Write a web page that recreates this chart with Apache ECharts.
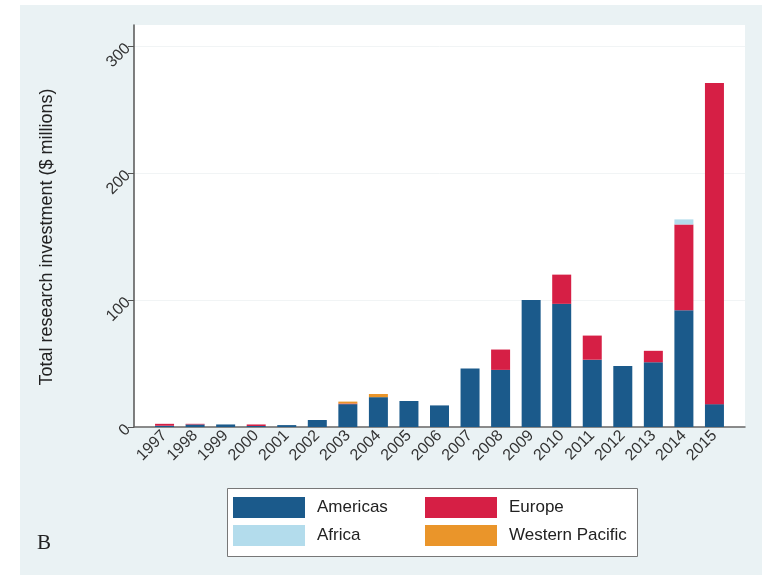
<!DOCTYPE html>
<html>
<head>
<meta charset="utf-8">
<script src="https://cdn.jsdelivr.net/npm/echarts@6/dist/echarts.min.js"></script>
<style>
  html, body { margin: 0; padding: 0; background: #ffffff; }
  #chart { width: 769px; height: 580px; }
</style>
</head>
<body>
<div id="chart"></div>
<script>
// Research investment by WHO region, $ millions per year
const years = ['1997', '1998', '1999', '2000', '2001', '2002', '2003', '2004', '2005', '2006', '2007', '2008', '2009', '2010', '2011', '2012', '2013', '2014', '2015'];
const americas = [1.0, 2.0, 2.0, 0.8, 1.5, 5.5, 18, 23.5, 20.5, 17, 46, 45, 100, 97, 53, 48, 51, 92, 18];
const europe = [1.5, 0.5, 0, 1.2, 0, 0, 0.5, 0, 0, 0, 0, 16, 0, 23, 19, 0, 9, 67.5, 253];
const africa = [0, 0, 0, 0, 0, 0, 0, 0, 0, 0, 0, 0, 0, 0, 0, 0, 0, 4, 0];
const westernPacific = [0, 0, 0, 0, 0, 0, 1.5, 2.5, 0, 0, 0, 0, 0, 0, 0, 0, 0, 0, 0];
const yTicks = [0, 100, 200, 300];

const seriesDefs = [
  { name: 'Americas', values: americas, color: '#1b5a8b' },
  { name: 'Europe', values: europe, color: '#d61f45' },
  { name: 'Africa', values: africa, color: '#b3dcec' },
  { name: 'Western Pacific', values: westernPacific, color: '#ea952a' }
];

// an empty slot on each side keeps the bars clear of the plot edges
const slots = [''].concat(years, ['']);
const padded = function (vals) { return [null].concat(vals, [null]); };

const font = '"Liberation Sans", Arial, sans-serif';

// two legend columns sharing one framed key box
function legendColumn(left, names) {
  return {
    left: left, top: 497,
    orient: 'vertical',
    itemWidth: 72, itemHeight: 21, itemGap: 7,
    padding: 0,
    icon: 'rect',
    data: names,
    textStyle: { fontFamily: font, fontSize: 17, color: '#222', padding: [0, 0, 0, 7] }
  };
}

const chart = echarts.init(document.getElementById('chart'), null, { renderer: 'canvas' });

chart.setOption({
  animation: false,
  backgroundColor: '#ffffff',
  graphic: [
    {
      type: 'rect', z: -10, silent: true,
      shape: { x: 20, y: 5, width: 742, height: 570 },
      style: { fill: '#eaf2f4' }
    },
    {
      type: 'rect', z: -5, silent: true,
      shape: { x: 227.5, y: 488.5, width: 410, height: 68 },
      style: { fill: '#ffffff', stroke: '#777', lineWidth: 1 }
    },
    {
      type: 'text', left: 37, top: 533, silent: true,
      style: { text: 'B', font: '21px "Liberation Serif", "DejaVu Serif", serif', fill: '#222' }
    }
  ],
  grid: {
    left: 134, right: 24, top: 25, bottom: 153,
    show: true, backgroundColor: '#ffffff', borderWidth: 0
  },
  legend: [
    legendColumn(233, ['Americas', 'Africa']),
    legendColumn(425, ['Europe', 'Western Pacific'])
  ],
  xAxis: {
    type: 'category',
    data: slots,
    boundaryGap: false,
    axisLine: { show: true, lineStyle: { color: '#666', width: 1.5 } },
    axisTick: { show: false },
    splitLine: { show: false },
    axisLabel: {
      interval: 0,
      rotate: 45,
      margin: 6,
      fontFamily: font, fontSize: 16, color: '#333'
    }
  },
  yAxis: {
    type: 'value',
    min: 0, max: 316.6,
    name: 'Total research investment ($ millions)',
    nameLocation: 'middle',
    nameGap: 78,
    nameRotate: 90,
    nameTextStyle: { fontFamily: font, fontSize: 18, color: '#222', padding: [0, 22, 0, 0] },
    axisLine: { show: true, lineStyle: { color: '#555', width: 1.5 } },
    axisTick: { show: true, customValues: yTicks, length: 6, inside: false, lineStyle: { color: '#555' } },
    splitLine: { show: true, lineStyle: { color: '#f1f4f5', width: 1 } },
    axisLabel: {
      customValues: yTicks,
      rotate: 45,
      margin: 6,
      fontFamily: font, fontSize: 16, color: '#333'
    }
  },
  series: seriesDefs.map(function (s) {
    return {
      name: s.name,
      type: 'bar',
      stack: 'total',
      barWidth: 19,
      itemStyle: { color: s.color },
      data: padded(s.values)
    };
  })
});
</script>
</body>
</html>
